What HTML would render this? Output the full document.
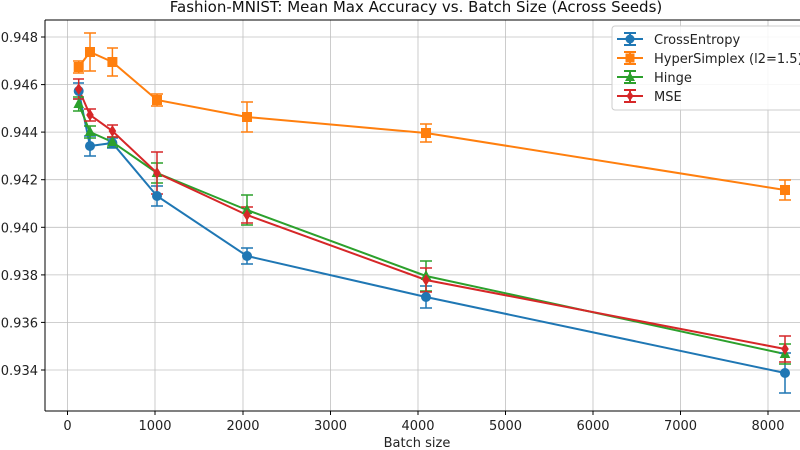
<!DOCTYPE html>
<html><head><style>body{margin:0;background:#fff}svg{display:block}</style></head><body>
<svg width="800" height="450" xmlns="http://www.w3.org/2000/svg" font-family="DejaVu Sans, Liberation Sans, sans-serif">
<rect width="800" height="450" fill="#fff"/>
<g stroke="#b0b0b0" stroke-width="0.8" opacity="0.8">
<line x1="67.5" y1="20" x2="67.5" y2="411"/><line x1="155" y1="20" x2="155" y2="411"/><line x1="243" y1="20" x2="243" y2="411"/><line x1="330.5" y1="20" x2="330.5" y2="411"/><line x1="418" y1="20" x2="418" y2="411"/><line x1="505.5" y1="20" x2="505.5" y2="411"/><line x1="593" y1="20" x2="593" y2="411"/><line x1="680.5" y1="20" x2="680.5" y2="411"/><line x1="768" y1="20" x2="768" y2="411"/>
<line x1="45" y1="37" x2="800" y2="37"/><line x1="45" y1="84.6" x2="800" y2="84.6"/><line x1="45" y1="132.1" x2="800" y2="132.1"/><line x1="45" y1="179.7" x2="800" y2="179.7"/><line x1="45" y1="227.3" x2="800" y2="227.3"/><line x1="45" y1="274.9" x2="800" y2="274.9"/><line x1="45" y1="322.4" x2="800" y2="322.4"/><line x1="45" y1="370" x2="800" y2="370"/>
</g>
<g stroke="#000" stroke-width="1"><line x1="45" y1="20" x2="800" y2="20"/><line x1="45" y1="20" x2="45" y2="411"/><line x1="45" y1="411" x2="800" y2="411"/>
<line x1="67.5" y1="411" x2="67.5" y2="415"/><line x1="155" y1="411" x2="155" y2="415"/><line x1="243" y1="411" x2="243" y2="415"/><line x1="330.5" y1="411" x2="330.5" y2="415"/><line x1="418" y1="411" x2="418" y2="415"/><line x1="505.5" y1="411" x2="505.5" y2="415"/><line x1="593" y1="411" x2="593" y2="415"/><line x1="680.5" y1="411" x2="680.5" y2="415"/><line x1="768" y1="411" x2="768" y2="415"/>
<line x1="41" y1="37" x2="45" y2="37"/><line x1="41" y1="84.6" x2="45" y2="84.6"/><line x1="41" y1="132.1" x2="45" y2="132.1"/><line x1="41" y1="179.7" x2="45" y2="179.7"/><line x1="41" y1="227.3" x2="45" y2="227.3"/><line x1="41" y1="274.9" x2="45" y2="274.9"/><line x1="41" y1="322.4" x2="45" y2="322.4"/><line x1="41" y1="370" x2="45" y2="370"/></g>
<g font-size="13" fill="#222" text-anchor="middle">
<text x="67.5" y="430">0</text><text x="155" y="430">1000</text><text x="243" y="430">2000</text><text x="330.5" y="430">3000</text><text x="418" y="430">4000</text><text x="505.5" y="430">5000</text><text x="593" y="430">6000</text><text x="680.5" y="430">7000</text><text x="768" y="430">8000</text>
<text x="417" y="447">Batch size</text></g>
<g font-size="13" fill="#222" text-anchor="end">
<text x="38" y="42">0.948</text><text x="38" y="89.6">0.946</text><text x="38" y="137">0.944</text><text x="38" y="184.7">0.942</text><text x="38" y="232.3">0.940</text><text x="38" y="279.9">0.938</text><text x="38" y="327.4">0.936</text><text x="38" y="375">0.934</text></g>
<text x="416" y="12" font-size="15" text-anchor="middle" fill="#111">Fashion-MNIST: Mean Max Accuracy vs. Batch Size (Across Seeds)</text>
<g fill="none" stroke-width="2">
<polyline stroke="#1f77b4" points="78.7,91 90,146 112.4,143 157,196 247,256 426,297 785,373"/>
<polyline stroke="#ff7f0e" points="78.7,67 90,52 112.4,62 157,100 247,117 426,133 785,190"/>
<polyline stroke="#2ca02c" points="78.7,104 90,132 112.4,142 157,173 247,210 426,276 785,354"/>
<polyline stroke="#d62728" points="78.7,89 90,115 112.4,131 157,173 247,215 426,280 785,349"/>
</g>
<g stroke-width="1.5">
<g stroke="#1f77b4"><path d="M78.7 83V99M73 83H84M73 99H84M90 136V156M84 136H96M84 156H96M112.4 138V148M107 138H118M107 148H118M157 186V206M151 186H163M151 206H163M247 248V264M241 248H253M241 264H253M426 286V308M420 286H432M420 308H432M785 353V393M779 353H791M779 393H791"/></g>
<g stroke="#ff7f0e"><path d="M78.7 61V73M73 61H84M73 73H84M90 33V71M84 33H96M84 71H96M112.4 48V76M107 48H118M107 76H118M157 94V106M151 94H163M151 106H163M247 102V132M241 102H253M241 132H253M426 124V142M420 124H432M420 142H432M785 180V200M779 180H791M779 200H791"/></g>
<g stroke="#2ca02c"><path d="M78.7 97V111M73 97H84M73 111H84M90 126V138M84 126H96M84 138H96M112.4 137V147M107 137H118M107 147H118M157 163V183M151 163H163M151 183H163M247 195V225M241 195H253M241 225H253M426 261V291M420 261H432M420 291H432M785 344V364M779 344H791M779 364H791"/></g>
<g stroke="#d62728"><path d="M78.7 79V99M73 79H84M73 99H84M90 109V121M84 109H96M84 121H96M112.4 125V137M107 125H118M107 137H118M157 152V194M151 152H163M151 194H163M247 207V223M241 207H253M241 223H253M426 268V292M420 268H432M420 292H432M785 336V362M779 336H791M779 362H791"/></g>
</g>
<g fill="#1f77b4"><circle cx="78.7" cy="91" r="5"/><circle cx="90" cy="146" r="5"/><circle cx="112.4" cy="143" r="5"/><circle cx="157" cy="196" r="5"/><circle cx="247" cy="256" r="5"/><circle cx="426" cy="297" r="5"/><circle cx="785" cy="373" r="5"/></g>
<g fill="#ff7f0e"><rect x="73.7" y="62" width="10" height="10"/><rect x="85" y="47" width="10" height="10"/><rect x="107.4" y="57" width="10" height="10"/><rect x="152" y="95" width="10" height="10"/><rect x="242" y="112" width="10" height="10"/><rect x="421" y="128" width="10" height="10"/><rect x="780" y="185" width="10" height="10"/></g>
<g fill="#2ca02c"><path d="M78.7 98L84 108H73.4Z M90 126L95.3 136H84.7Z M112.4 136L117.7 146H107.1Z M157 167L162.3 177H151.7Z M247 204L252.3 214H241.7Z M426 270L431.3 280H420.7Z M785 348L790.3 358H779.7Z"/></g>
<g fill="#d62728"><path d="M78.7 83L82.5 89L78.7 95L74.9 89Z M90 109L93.8 115L90 121L86.2 115Z M112.4 125L116.2 131L112.4 137L108.6 131Z M157 167L160.8 173L157 179L153.2 173Z M247 209L250.8 215L247 221L243.2 215Z M426 274L429.8 280L426 286L422.2 280Z M785 343L788.8 349L785 355L781.2 349Z"/></g>
<rect x="612" y="26" width="200" height="84" rx="3" fill="#fff" fill-opacity="0.85" stroke="#ccc"/>
<g stroke-width="2">
<g stroke="#1f77b4"><path d="M617 39H643M630 33V45M624 33H636M624 45H636"/></g><circle cx="630" cy="39" r="4.5" fill="#1f77b4"/>
<g stroke="#ff7f0e"><path d="M617 58H643M630 52V64M624 52H636M624 64H636"/></g><rect x="625.5" y="53.5" width="9" height="9" fill="#ff7f0e"/>
<g stroke="#2ca02c"><path d="M617 77H643M630 71V83M624 71H636M624 83H636"/></g><path d="M630 72L635 81H625Z" fill="#2ca02c"/>
<g stroke="#d62728"><path d="M617 96H643M630 90V102M624 90H636M624 102H636"/></g><path d="M630 91L633.5 96L630 101L626.5 96Z" fill="#d62728"/>
</g>
<g font-size="13" fill="#222"><text x="654" y="44">CrossEntropy</text><text x="654" y="63">HyperSimplex (l2=1.5)</text><text x="654" y="82">Hinge</text><text x="654" y="101">MSE</text></g>
</svg>
</body></html>
